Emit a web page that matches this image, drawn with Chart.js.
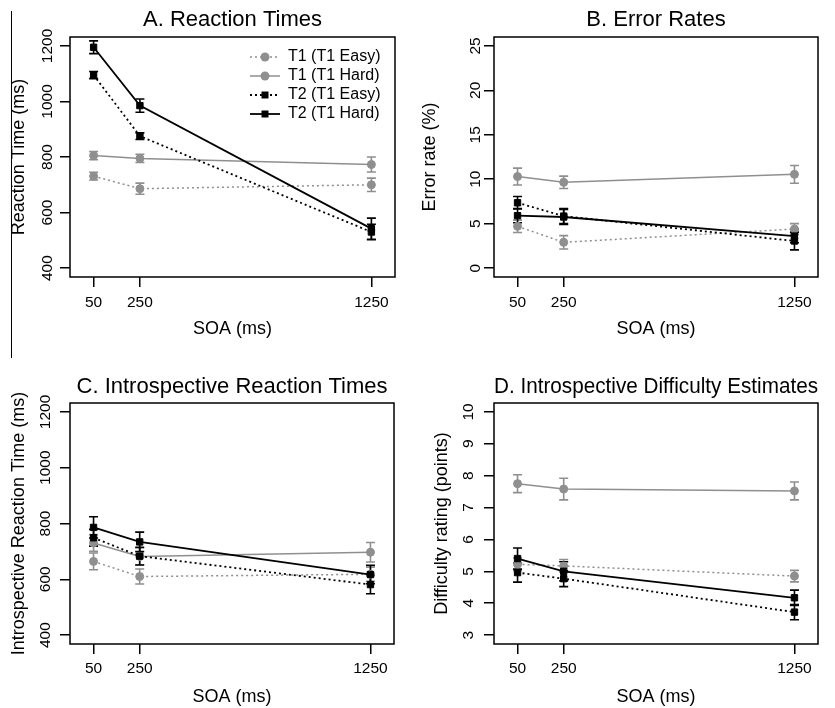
<!DOCTYPE html>
<html>
<head>
<meta charset="utf-8">
<script src="https://cdn.jsdelivr.net/npm/chart.js@4/dist/chart.umd.min.js"></script>
<style>
  body { margin: 0; background: #fff; width: 835px; height: 708px; position: relative; overflow: hidden; }
  canvas { position: absolute; }
  #rule { position: absolute; left: 11px; top: 11px; width: 1px; height: 347px; background: #000; }
</style>
</head>
<body>
<div id="rule"></div>
<canvas id="chartA" width="415" height="340" style="left:0;top:0"></canvas>
<canvas id="chartB" width="420" height="340" style="left:415px;top:0"></canvas>
<canvas id="chartC" width="415" height="368" style="left:0;top:340px"></canvas>
<canvas id="chartD" width="420" height="368" style="left:415px;top:340px"></canvas>
<script>
// SOA levels (x) and series labels
const soa = [50, 250, 1250];
const seriesLabels = ['T1 (T1 Easy)', 'T1 (T1 Hard)', 'T2 (T1 Easy)', 'T2 (T1 Hard)'];

// A. Reaction times (ms)
const rtT1Easy = [731, 686, 700];
const rtT1Hard = [805, 795, 773];
const rtT2Easy = [1095, 875, 530];
const rtT2Hard = [1195, 985, 542];
const rtT1EasyErr = [14, 20, 24];
const rtT1HardErr = [15, 15, 27];
const rtT2EasyErr = [13, 12, 28];
const rtT2HardErr = [23, 24, 38];

// B. Error rates (%)
const erT1Easy = [4.7, 2.9, 4.4];
const erT1Hard = [10.3, 9.65, 10.55];
const erT2Easy = [7.35, 5.85, 3.05];
const erT2Hard = [5.9, 5.75, 3.6];
const erT1EasyErr = [0.7, 0.75, 0.6];
const erT1HardErr = [0.95, 0.7, 1.0];
const erT2EasyErr = [0.7, 0.85, 1.0];
const erT2HardErr = [0.8, 0.85, 0.75];

// C. Introspective reaction times (ms)
const irtT1Easy = [664, 610, 618];
const irtT1Hard = [730, 682, 697];
const irtT2Easy = [749, 683, 581];
const irtT2Hard = [786, 734, 617];
const irtT1EasyErr = [30, 27, 25];
const irtT1HardErr = [30, 30, 35];
const irtT2EasyErr = [30, 32, 33];
const irtT2HardErr = [38, 35, 33];

// D. Difficulty ratings (points)
const dT1Easy = [5.22, 5.17, 4.85];
const dT1Hard = [7.75, 7.58, 7.52];
const dT2Easy = [4.96, 4.77, 3.72];
const dT2Hard = [5.40, 5.0, 4.17];
const dT1EasyErr = [0.2, 0.2, 0.18];
const dT1HardErr = [0.28, 0.34, 0.28];
const dT2EasyErr = [0.3, 0.25, 0.24];
const dT2HardErr = [0.33, 0.3, 0.24];

// tick labels
const xTicks = [50, 250, 1250];
const rtTicks = [400, 600, 800, 1000, 1200];
const erTicks = [0, 5, 10, 15, 20, 25];
const dTicks = [3, 4, 5, 6, 7, 8, 9, 10];

const FONT = '"Liberation Sans", Arial, Helvetica, sans-serif';
const GRAY = '#8f8f8f';
const BLACK = '#000';
Chart.defaults.font.family = FONT;
Chart.defaults.color = '#000';

const looks = [
  { color: GRAY, dash: [2, 3], point: 'circle', radius: 4, width: 1.5, order: 2 },
  { color: GRAY, dash: [], point: 'circle', radius: 4, width: 1.5, order: 2 },
  { color: BLACK, dash: [2, 3], point: 'rect', radius: 4.5, width: 1.8, order: 1 },
  { color: BLACK, dash: [], point: 'rect', radius: 4.5, width: 1.8, order: 1 }
];

function buildDatasets(values, errors) {
  return values.map((vals, i) => ({
    label: seriesLabels[i],
    data: soa.map((x, j) => ({ x: x, y: vals[j] })),
    errors: errors[i],
    borderColor: looks[i].color,
    backgroundColor: looks[i].color,
    borderWidth: looks[i].width,
    borderDash: looks[i].dash,
    pointStyle: looks[i].point,
    pointRadius: looks[i].radius,
    pointBackgroundColor: looks[i].color,
    pointBorderColor: looks[i].color,
    pointBorderWidth: 1,
    tension: 0,
    order: looks[i].order
  }));
}

// vertical error bars with caps
const errorBars = {
  id: 'errorBars',
  beforeDatasetsDraw(chart) {
    const { ctx, scales: { x, y } } = chart;
    ctx.save();
    ctx.setLineDash([]);
    chart.data.datasets.forEach(ds => {
      ctx.strokeStyle = ds.borderColor;
      ctx.lineWidth = 1.6;
      ds.data.forEach((p, j) => {
        const px = x.getPixelForValue(p.x);
        const top = y.getPixelForValue(p.y + ds.errors[j]);
        const bot = y.getPixelForValue(p.y - ds.errors[j]);
        ctx.beginPath();
        ctx.moveTo(px, top); ctx.lineTo(px, bot);
        ctx.moveTo(px - 4.5, top); ctx.lineTo(px + 4.5, top);
        ctx.moveTo(px - 4.5, bot); ctx.lineTo(px + 4.5, bot);
        ctx.stroke();
      });
    });
    ctx.restore();
  }
};

// R-style box around the plot region
const plotBox = {
  id: 'plotBox',
  afterDraw(chart) {
    const { ctx, chartArea: a } = chart;
    ctx.save();
    ctx.strokeStyle = '#000';
    ctx.lineWidth = 1.5;
    ctx.strokeRect(a.left, a.top, a.right - a.left, a.bottom - a.top);
    ctx.restore();
  }
};

// legend with line + marker samples (panel A only)
const lineLegend = {
  id: 'lineLegend',
  afterDraw(chart, args, opts) {
    if (!opts.show) return;
    const { ctx, chartArea } = chart;
    const x0 = chartArea.right - 145;
    ctx.save();
    ctx.font = '16px ' + FONT;
    ctx.textBaseline = 'middle';
    chart.data.datasets.forEach((ds, i) => {
      const y = chartArea.top + 20 + i * 19;
      ctx.strokeStyle = ds.borderColor;
      ctx.lineWidth = ds.borderWidth;
      ctx.setLineDash(ds.borderDash);
      ctx.beginPath();
      ctx.moveTo(x0, y);
      ctx.lineTo(x0 + 30, y);
      ctx.stroke();
      ctx.setLineDash([]);
      ctx.fillStyle = ds.borderColor;
      ctx.beginPath();
      if (ds.pointStyle === 'circle') {
        ctx.arc(x0 + 15, y, 4.5, 0, Math.PI * 2);
      } else {
        ctx.rect(x0 + 11.5, y - 3.5, 7, 7);
      }
      ctx.fill();
      ctx.fillStyle = '#000';
      ctx.fillText(ds.label, x0 + 38, y);
    });
    ctx.restore();
  }
};

function makePanel(id, p) {
  const gridOpts = { drawOnChartArea: false, drawTicks: true, tickLength: 10, color: '#000', lineWidth: 1.5 };
  return new Chart(document.getElementById(id), {
    type: 'line',
    data: { datasets: buildDatasets(p.values, p.errors) },
    plugins: [errorBars, plotBox, lineLegend],
    options: {
      responsive: false,
      animation: false,
      events: [],
      layout: { padding: { left: 0, right: p.padRight, top: 0, bottom: 0 } },
      plugins: {
        legend: { display: false },
        tooltip: { enabled: false },
        lineLegend: { show: !!p.legend },
        title: {
          display: true,
          text: p.title,
          fullSize: false,
          color: '#000',
          font: { size: 22, weight: 'normal' },
          padding: { top: p.titleTop, bottom: p.titleBottom }
        }
      },
      scales: {
        x: {
          type: 'linear',
          min: -52,
          max: 1352,
          afterBuildTicks: s => { s.ticks = xTicks.map(v => ({ value: v })); },
          afterFit: s => { s.height = p.xHeight; },
          grid: gridOpts,
          border: { display: false },
          ticks: { padding: p.xTickPad, maxRotation: 0, font: { size: 15.5 }, color: '#000', callback: v => String(v) },
          title: { display: true, text: 'SOA (ms)', color: '#000', font: { size: 18 }, padding: { top: 0, bottom: 0.5 } }
        },
        y: {
          type: 'linear',
          min: p.yMin,
          max: p.yMax,
          afterBuildTicks: s => { s.ticks = p.yTicks.map(v => ({ value: v })); },
          afterFit: s => { s.width = p.yWidth; },
          grid: gridOpts,
          border: { display: false },
          ticks: { minRotation: 90, maxRotation: 90, crossAlign: 'center', padding: p.yTickPad, font: { size: 15.5 }, color: '#000', callback: v => String(v) },
          title: { display: true, text: p.yLabel, color: '#000', font: { size: 18 }, padding: { top: p.yTitlePad, bottom: 0 } }
        }
      }
    }
  });
}

makePanel('chartA', {
  title: 'A. Reaction Times', yLabel: 'Reaction Time (ms)', legend: true,
  values: [rtT1Easy, rtT1Hard, rtT2Easy, rtT2Hard],
  errors: [rtT1EasyErr, rtT1HardErr, rtT2EasyErr, rtT2HardErr],
  yMin: 368, yMax: 1232, yTicks: rtTicks,
  padRight: 20, titleTop: 7, titleBottom: 3.6, xHeight: 63, yWidth: 70,
  xTickPad: 6.3, yTickPad: -4.7, yTitlePad: 8.2
});

makePanel('chartB', {
  title: 'B. Error Rates', yLabel: 'Error rate (%)',
  values: [erT1Easy, erT1Hard, erT2Easy, erT2Hard],
  errors: [erT1EasyErr, erT1HardErr, erT2EasyErr, erT2HardErr],
  yMin: -1, yMax: 26, yTicks: erTicks,
  padRight: 17, titleTop: 7, titleBottom: 3.6, xHeight: 63, yWidth: 79,
  xTickPad: 6.3, yTickPad: -0.3, yTitlePad: 4.7
});

makePanel('chartC', {
  title: 'C. Introspective Reaction Times', yLabel: 'Introspective Reaction Time (ms)',
  values: [irtT1Easy, irtT1Hard, irtT2Easy, irtT2Hard],
  errors: [irtT1EasyErr, irtT1HardErr, irtT2EasyErr, irtT2HardErr],
  yMin: 368, yMax: 1232, yTicks: rtTicks,
  padRight: 21, titleTop: 33.8, titleBottom: 2.8, xHeight: 64, yWidth: 70,
  xTickPad: 5.3, yTickPad: -3.2, yTitlePad: 8.7
});

makePanel('chartD', {
  title: 'D. Introspective Difficulty Estimates', yLabel: 'Difficulty rating (points)',
  values: [dT1Easy, dT1Hard, dT2Easy, dT2Hard],
  errors: [dT1EasyErr, dT1HardErr, dT2EasyErr, dT2HardErr],
  yMin: 2.72, yMax: 10.28, yTicks: dTicks,
  padRight: 17, titleTop: 33.8, titleBottom: 2.8, xHeight: 64, yWidth: 79,
  xTickPad: 5.3, yTickPad: 6.2, yTitlePad: 16
});
</script>
</body>
</html>
